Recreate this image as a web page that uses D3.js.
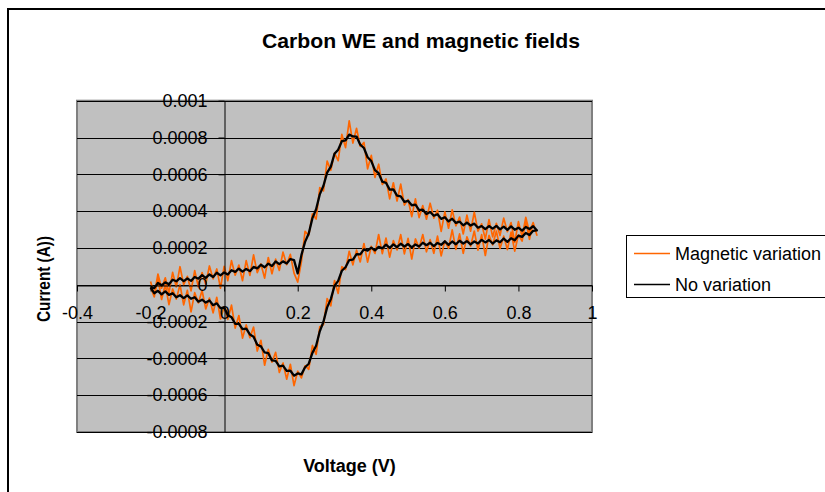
<!DOCTYPE html>
<html>
<head>
<meta charset="utf-8">
<script src="https://cdn.jsdelivr.net/npm/d3@7"></script>
<style>
  html, body { margin: 0; padding: 0; background: #fff; }
  svg { display: block; }
  text { font-family: "Liberation Sans", Arial, sans-serif; fill: #000; }
</style>
</head>
<body>
<svg id="chart" width="825" height="492"></svg>
<script>
// ---------- DATA ----------
const chartTitle = "Carbon WE and magnetic fields";
const xAxisTitle = "Voltage (V)";
const yAxisTitle = "Current (A))";
const seriesNames = ["Magnetic variation", "No variation"];
const seriesColors = ["#ff6600", "#000000"];

const xTicks = [-0.4, -0.2, 0, 0.2, 0.4, 0.6, 0.8, 1];
const xTickLabels = ["-0.4", "-0.2", "0", "0.2", "0.4", "0.6", "0.8", "1"];
const yTicks = [-0.0008, -0.0006, -0.0004, -0.0002, 0, 0.0002, 0.0004, 0.0006, 0.0008, 0.001];
const yTickLabels = ["-0.0008", "-0.0006", "-0.0004", "-0.0002", "0", "0.0002", "0.0004", "0.0006", "0.0008", "0.001"];

// Voltage sweep (V): forward -0.20 -> 0.85, then reverse 0.84 -> -0.20
const voltage = [
  -0.20,-0.19,-0.18,-0.17,-0.16,-0.15,-0.14,-0.13,-0.12,-0.11,
  -0.10,-0.09,-0.08,-0.07,-0.06,-0.05,-0.04,-0.03,-0.02,-0.01,
  0.00,0.01,0.02,0.03,0.04,0.05,0.06,0.07,0.08,0.09,
  0.10,0.11,0.12,0.13,0.14,0.15,0.16,0.17,0.18,0.19,
  0.20,0.21,0.22,0.23,0.24,0.25,0.26,0.27,0.28,0.29,
  0.30,0.31,0.32,0.33,0.34,0.35,0.36,0.37,0.38,0.39,
  0.40,0.41,0.42,0.43,0.44,0.45,0.46,0.47,0.48,0.49,
  0.50,0.51,0.52,0.53,0.54,0.55,0.56,0.57,0.58,0.59,
  0.60,0.61,0.62,0.63,0.64,0.65,0.66,0.67,0.68,0.69,
  0.70,0.71,0.72,0.73,0.74,0.75,0.76,0.77,0.78,0.79,
  0.80,0.81,0.82,0.83,0.84,0.85,
  0.84,0.83,0.82,0.81,0.80,0.79,0.78,0.77,0.76,0.75,
  0.74,0.73,0.72,0.71,0.70,0.69,0.68,0.67,0.66,0.65,
  0.64,0.63,0.62,0.61,0.60,0.59,0.58,0.57,0.56,0.55,
  0.54,0.53,0.52,0.51,0.50,0.49,0.48,0.47,0.46,0.45,
  0.44,0.43,0.42,0.41,0.40,0.39,0.38,0.37,0.36,0.35,
  0.34,0.33,0.32,0.31,0.30,0.29,0.28,0.27,0.26,0.25,
  0.24,0.23,0.22,0.21,0.20,0.19,0.18,0.17,0.16,0.15,
  0.14,0.13,0.12,0.11,0.10,0.09,0.08,0.07,0.06,0.05,
  0.04,0.03,0.02,0.01,0.00,-0.01,-0.02,-0.03,-0.04,-0.05,
  -0.06,-0.07,-0.08,-0.09,-0.10,-0.11,-0.12,-0.13,-0.14,-0.15,
  -0.16,-0.17,-0.18,-0.19,-0.20
];

// Current in microamps (µA)
const magneticCurrent_uA = [
  18,-55,58,-19,38,-44,67,-12,98,1,
  46,-33,77,-12,66,4,102,32,86,-18,
  100,22,131,52,107,22,131,51,162,66,
  113,36,148,60,139,78,177,109,165,63,
  15,125,290,268,385,357,528,510,672,622,
  715,674,817,745,890,770,850,752,773,630,
  703,583,655,545,575,467,554,455,547,433,
  463,370,467,365,430,356,443,362,405,290,
  396,307,407,320,368,276,378,291,394,291,
  331,248,354,260,334,268,362,288,338,230,
  343,260,366,285,338,270,
  338,247,346,237,271,183,286,191,264,197,
  291,217,268,159,272,188,292,209,260,171,
  276,192,298,197,239,157,264,171,245,179,
  273,199,249,140,252,168,272,189,240,150,
  254,169,273,170,209,123,224,124,188,108,
  182,82,98,-47,23,-115,-75,-217,-228,-378,
  -330,-460,-440,-506,-470,-548,-432,-513,-425,-476,
  -367,-421,-351,-437,-302,-360,-230,-288,-218,-290,
  -167,-235,-111,-188,-120,-186,-68,-153,-72,-131,
  -31,-99,-43,-147,-30,-109,0,-78,-23,-108,
  1,-80,30,-66,-13
];

const noVariationCurrent_uA = [
  -11,-18,10,-3,13,3,27,19,36,20,
  34,21,42,33,52,37,56,42,65,51,
  67,56,79,70,87,71,86,74,97,89,
  109,95,115,102,126,112,127,116,140,134,
  62,161,233,278,362,410,491,538,609,642,
  712,734,780,784,816,806,805,761,743,693,
  672,623,606,560,554,517,518,484,480,450,
  456,432,435,406,408,384,395,375,383,358,
  367,344,359,336,343,323,338,322,332,310,
  319,302,319,305,320,301,316,298,317,299,
  310,294,314,303,318,296,
  293,270,281,260,267,242,253,233,251,231,
  241,224,243,230,244,224,235,219,237,224,
  239,220,235,217,236,217,227,210,228,215,
  228,208,219,203,221,208,223,204,219,200,
  218,198,206,187,202,185,192,165,166,136,
  134,95,76,21,-6,-78,-123,-201,-253,-331,
  -370,-429,-448,-487,-482,-494,-467,-468,-439,-443,
  -413,-411,-372,-368,-335,-326,-282,-270,-238,-241,
  -212,-212,-176,-165,-124,-127,-101,-111,-85,-97,
  -81,-92,-68,-76,-58,-73,-57,-68,-46,-55,
  -36,-52,-33,-46,-16
];
const seriesValues_uA = [magneticCurrent_uA, noVariationCurrent_uA];
const MICRO = 1e-6;

// ---------- LAYOUT ----------
const svg = d3.select("#chart");
const plot = { left: 77, right: 592, top: 100.7, bottom: 432 };
const x = d3.scaleLinear().domain([-0.4, 1]).range([plot.left, plot.right]);
const y = d3.scaleLinear().domain([-0.0008, 0.001]).range([plot.bottom, plot.top]);
const FONT = 18;

// outer frame (right/bottom run off the canvas)
svg.append("rect").attr("x", 8).attr("y", 9).attr("width", 900).attr("height", 600)
  .attr("fill", "#fff").attr("stroke", "#000").attr("stroke-width", 2);

// title
svg.append("text").attr("x", 421).attr("y", 48).attr("text-anchor", "middle")
  .attr("font-size", 21).attr("font-weight", "bold")
  .attr("textLength", 318).attr("lengthAdjust", "spacingAndGlyphs")
  .text(chartTitle);

// plot area
svg.append("rect").attr("x", plot.left).attr("y", plot.top)
  .attr("width", plot.right - plot.left).attr("height", plot.bottom - plot.top)
  .attr("fill", "#c0c0c0").attr("stroke", "#808080").attr("stroke-width", 2);

// gridlines
svg.append("g").selectAll("line").data(yTicks).join("line")
  .attr("x1", plot.left).attr("x2", plot.right)
  .attr("y1", d => Math.round(y(d)) + 0.5).attr("y2", d => Math.round(y(d)) + 0.5)
  .attr("stroke", "#000").attr("stroke-width", 1);

// series
const line = d3.line()
  .x((d, i) => x(voltage[i]))
  .y(d => y(d * MICRO));
seriesValues_uA.forEach((vals, s) => {
  svg.append("path").datum(vals)
    .attr("d", line)
    .attr("fill", "none")
    .attr("stroke", seriesColors[s])
    .attr("stroke-width", s === 0 ? 1.7 : 2.3)
    .attr("stroke-linejoin", "round");
});

// y axis at x = 0
const yAxis = svg.append("g")
  .attr("transform", `translate(${Math.round(x(0)) + 0.5},0)`)
  .call(d3.axisLeft(y).tickValues(yTicks).tickSizeInner(6).tickSizeOuter(0).tickPadding(11)
    .tickFormat((d, i) => yTickLabels[i]));
// x axis at y = 0
const xAxis = svg.append("g")
  .attr("transform", `translate(0,${Math.round(y(0)) + 0.5})`)
  .call(d3.axisBottom(x).tickValues(xTicks).tickSizeInner(6).tickSizeOuter(0).tickPadding(15)
    .tickFormat((d, i) => xTickLabels[i]));
[yAxis, xAxis].forEach(g => {
  g.attr("font-family", null).attr("font-size", null);
  g.selectAll("path.domain").attr("stroke", "#000");
  g.selectAll(".tick line").attr("stroke", "#000");
  g.selectAll(".tick text").attr("font-size", FONT).attr("fill", "#000")
    .style("font-family", '"Liberation Sans", Arial, sans-serif');
});

// axis titles
svg.append("text").attr("x", 349.5).attr("y", 471.5).attr("text-anchor", "middle")
  .attr("font-size", FONT).attr("font-weight", "bold").text(xAxisTitle);
svg.append("text").attr("transform", "translate(49.5,279) rotate(-90)")
  .attr("text-anchor", "middle").attr("font-size", FONT).attr("font-weight", "bold")
  .attr("textLength", 86).attr("lengthAdjust", "spacingAndGlyphs")
  .text(yAxisTitle);

// legend
const lg = svg.append("g");
lg.append("rect").attr("x", 626.5).attr("y", 235.5).attr("width", 240).attr("height", 62)
  .attr("fill", "#fff").attr("stroke", "#000").attr("stroke-width", 1);
seriesNames.forEach((name, i) => {
  const cy = 253.5 + i * 31;
  lg.append("line").attr("x1", 634).attr("x2", 670).attr("y1", cy).attr("y2", cy)
    .attr("stroke", seriesColors[i]).attr("stroke-width", 1.5);
  lg.append("text").attr("x", 675).attr("y", cy + 6.5).attr("font-size", FONT).text(name);
});
</script>
</body>
</html>
